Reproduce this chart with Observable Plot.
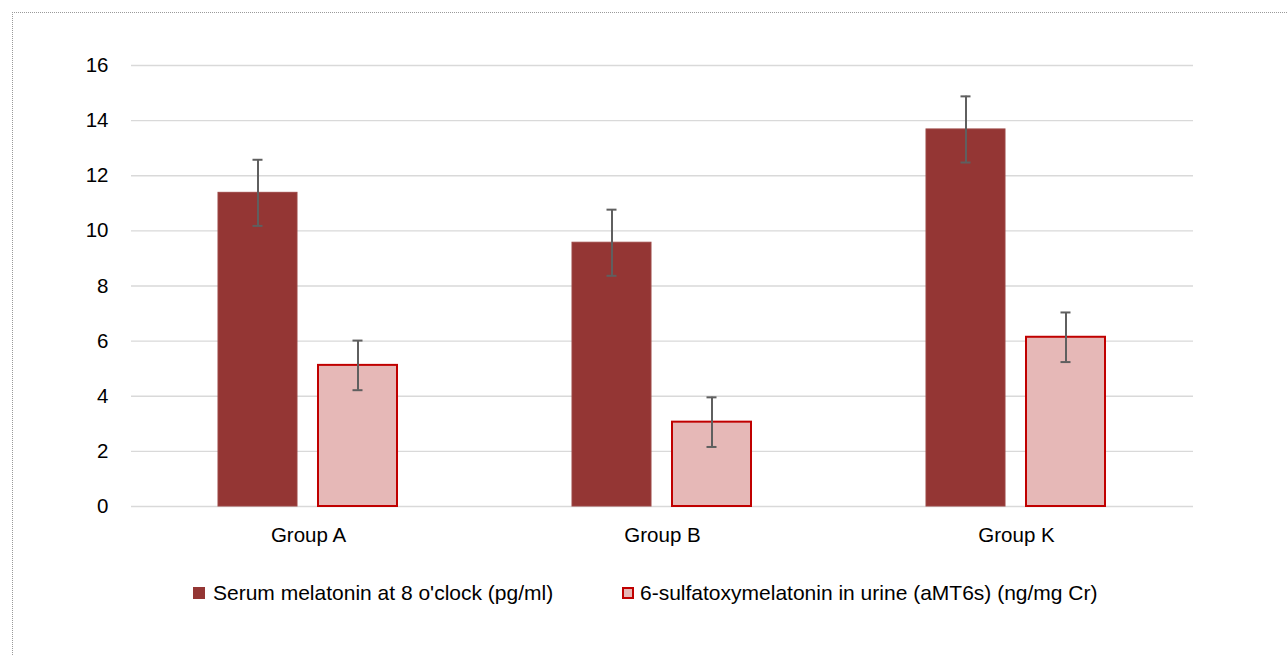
<!DOCTYPE html>
<html>
<head>
<meta charset="utf-8">
<script src="https://cdn.jsdelivr.net/npm/d3@7"></script>
<script src="https://cdn.jsdelivr.net/npm/@observablehq/plot@0.6"></script>
<style>
  html, body { margin: 0; padding: 0; background: #fff; overflow: hidden; }
  body { width: 1288px; height: 655px; position: relative; font-family: "Liberation Sans", Arial, sans-serif; }
  #frame { position: absolute; left: 12px; top: 12px; width: 1400px; height: 800px; border-left: 1px dotted #9a9a9a; border-top: 1px dotted #9a9a9a; pointer-events: none; }
  #chart { position: absolute; left: 0; top: 0; }
  #legend { position: absolute; left: 0; top: 580px; width: 1288px; height: 26px; font-size: 21px; color: #000; }
  .item { position: absolute; top: 0; display: flex; align-items: center; height: 26px; white-space: nowrap; }
  .sw { width: 12px; height: 12px; box-sizing: border-box; margin-right: 8px; }
</style>
</head>
<body>
<div id="chart"></div>
<div id="legend"></div>
<div id="frame"></div>
<script>
const groups = ["Group A", "Group B", "Group K"];
const seriesNames = ["Serum melatonin at 8 o'clock (pg/ml)", "6-sulfatoxymelatonin in urine (aMT6s) (ng/mg Cr)"];
const serumValues = [11.38, 9.57, 13.68];
const serumErrors = [1.2, 1.2, 1.2];
const urineValues = [5.12, 3.06, 6.14];
const urineErrors = [0.9, 0.9, 0.9];
const yTicks = [0, 2, 4, 6, 8, 10, 12, 14, 16];

const colors = {fill: ["#943634", "#E6B8B7"], stroke: ["#9c4644", "#C00000"]};

const rows = [];
groups.forEach((g, i) => {
  rows.push({group: g, series: seriesNames[0], value: serumValues[i], err: serumErrors[i]});
  rows.push({group: g, series: seriesNames[1], value: urineValues[i], err: urineErrors[i]});
});
const s1 = rows.filter(d => d.series === seriesNames[0]);
const s2 = rows.filter(d => d.series === seriesNames[1]);

const chart = Plot.plot({
  width: 1288,
  height: 560,
  marginTop: 65,
  marginBottom: 54,
  marginLeft: 130,
  marginRight: 95,
  style: {fontFamily: "'Liberation Sans', Arial, sans-serif", fontSize: "20.5px", color: "#000", background: "transparent"},
  fx: {domain: groups, padding: 0, label: null, axis: "bottom", tickSize: 0, tickPadding: 21},
  x: {domain: seriesNames, paddingInner: 0.208, paddingOuter: 0.858, axis: null},
  y: {domain: [0, 16], ticks: yTicks, tickSize: 0, tickPadding: 23, label: null},
  marks: [
    Plot.gridY(yTicks, {stroke: "#d9d9d9", strokeOpacity: 1, strokeWidth: 1.3}),
    Plot.barY(s1, {fx: "group", x: "series", y: "value", fill: colors.fill[0], stroke: colors.stroke[0], strokeWidth: 1}),
    Plot.barY(s2, {fx: "group", x: "series", y: "value", fill: colors.fill[1], stroke: colors.stroke[1], strokeWidth: 2}),
    Plot.ruleX(rows, {fx: "group", x: "series", y1: d => d.value - d.err, y2: d => d.value + d.err, stroke: "#5f5f5f", strokeWidth: 2}),
    Plot.tickY(rows, {fx: "group", x: "series", y: d => d.value + d.err, stroke: "#5f5f5f", strokeWidth: 2, inset: 34.5}),
    Plot.tickY(rows, {fx: "group", x: "series", y: d => d.value - d.err, stroke: "#5f5f5f", strokeWidth: 2, inset: 34.5})
  ]
});
document.getElementById("chart").appendChild(chart);

const legend = document.getElementById("legend");
const lefts = [193, 622];
seriesNames.forEach((name, i) => {
  const item = document.createElement("div");
  item.className = "item";
  item.style.left = lefts[i] + "px";
  const sw = document.createElement("div");
  sw.className = "sw";
  sw.style.background = colors.fill[i];
  if (i === 1) { sw.style.border = "2px solid " + colors.stroke[1]; sw.style.marginRight = "6px"; }
  const label = document.createElement("span");
  label.textContent = name;
  item.appendChild(sw);
  item.appendChild(label);
  legend.appendChild(item);
});
</script>
</body>
</html>
